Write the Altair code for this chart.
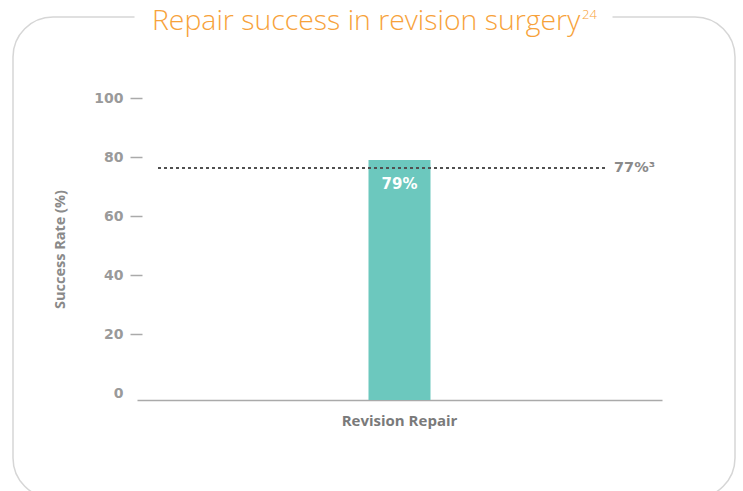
import altair as alt
import pandas as pd

# ---- data ----
categories = ["Revision Repair"]
success = [79]
bar_labels = ["79%"]
reference_value = [76.3]
reference_label = ["77%\u00b3"]
title_text = ["Repair success in revision surgery"]
title_sup = ["24"]
y_ticks = [0, 20, 40, 60, 80, 100]
y_domain = [-2.37, 100]

df = pd.DataFrame({
    "category": categories,
    "success": success,
    "label": bar_labels,
    "ref": reference_value,
    "ref_label": reference_label,
    "title": title_text,
    "sup": title_sup,
})

W, H = 525, 302
FONT = "Open Sans"
NUM_FONT = "DejaVu Sans"
y_scale = alt.Scale(domain=y_domain, nice=False, zero=False)
x_scale = alt.Scale(paddingInner=0.2, paddingOuter=0.2)

base = alt.Chart(df)

border = base.mark_rect(
    fillOpacity=0, stroke="#d6d6d6", strokeWidth=1.5, cornerRadius=40
).encode(x=alt.value(-124), x2=alt.value(598), y=alt.value(-81), y2=alt.value(400))

gap = base.mark_rect(fill="white", stroke="white").encode(
    x=alt.value(-2), x2=alt.value(475), y=alt.value(-90), y2=alt.value(-72)
)

title_t = base.mark_text(
    align="left", baseline="alphabetic", font=FONT, fontSize=28.4, fontWeight=300,
    color="#f7a23a"
).encode(x=alt.value(15), y=alt.value(-68), text="title:N")

sup_t = base.mark_text(
    align="left", baseline="alphabetic", font=FONT, fontSize=13, fontWeight=300,
    color="#f7a23a"
).encode(x=alt.value(445), y=alt.value(-79), text="sup:N")

y_axis = alt.Axis(
    values=y_ticks, title="Success Rate (%)", domain=False, grid=False,
    tickSize=12, tickWidth=1.5,
    tickColor={"condition": {"test": "datum.value === 0", "value": "transparent"}, "value": "#aaaaaa"},
    offset=-5, labelPadding=7, labelFont=NUM_FONT, labelFontSize=14, labelFontWeight="bold",
    labelColor="#9a9a9a", titleFont=FONT, titleFontSize=14.5, titleFontWeight="bold",
    titleColor="#8a8a8a", titlePadding=26,
)
x_axis = alt.Axis(
    title=None, labelAngle=0, ticks=False, domainColor="#aaaaaa", domainWidth=1.5,
    labelFont=FONT, labelFontSize=15, labelFontWeight="bold", labelColor="#7a7a7a",
    labelPadding=13,
)

bar = base.mark_bar(color="#6cc8be", size=62).encode(
    x=alt.X("category:N", scale=x_scale, axis=x_axis),
    y=alt.Y("success:Q", scale=y_scale, axis=y_axis),
    y2=alt.Y2(datum=y_domain[0]),
)

rule = base.mark_rule(strokeDash=[3, 3], strokeWidth=2, color="#505050").encode(
    y=alt.Y("ref:Q", scale=y_scale, axis=y_axis),
    x=alt.value(21), x2=alt.value(471),
)

ref_t = base.mark_text(
    align="left", baseline="middle", font=NUM_FONT, fontSize=14.5, fontWeight="bold",
    color="#8a8a8a"
).encode(y=alt.Y("ref:Q", scale=y_scale, axis=y_axis), x=alt.value(477), text="ref_label:N")

bar_lbl = base.mark_text(
    baseline="middle", dy=24, font=NUM_FONT, fontSize=15, fontWeight="bold", color="white"
).encode(
    x=alt.X("category:N", scale=x_scale, axis=x_axis),
    y=alt.Y("success:Q", scale=y_scale, axis=y_axis),
    text="label:N",
)

chart = alt.layer(border, gap, title_t, sup_t, bar, rule, ref_t, bar_lbl).properties(
    width=W, height=H,
    padding={"left": 137, "top": 98, "right": 81, "bottom": 91},
    autosize=alt.AutoSizeParams(type="none"),
    background="white",
).configure_view(stroke="transparent")

chart.save("out.html", embed_options={"renderer": "svg", "actions": False})
